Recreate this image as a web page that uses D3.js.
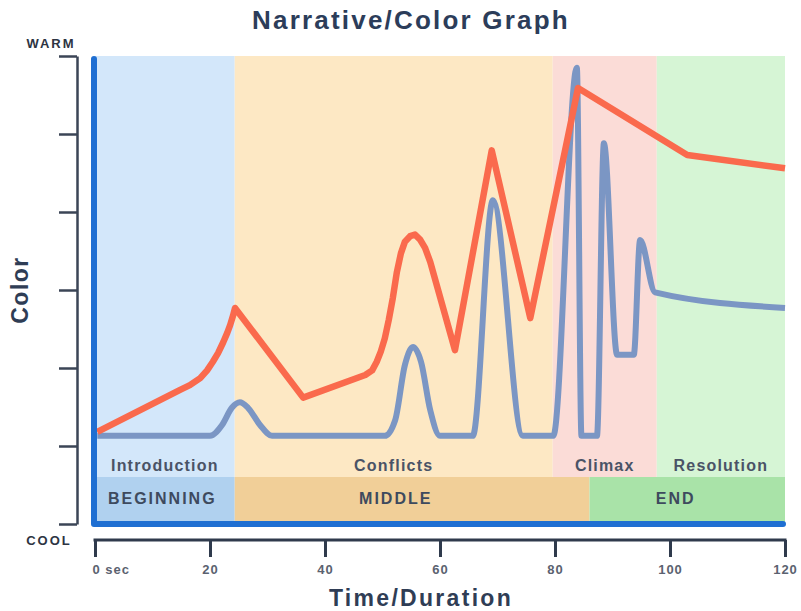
<!DOCTYPE html>
<html lang="en">
<head>
<meta charset="utf-8">
<title>Narrative/Color Graph</title>
<script src="https://cdnjs.cloudflare.com/ajax/libs/d3/7.8.5/d3.min.js"></script>
<style>
  body { margin: 0; background: #fff; }
  svg { display: block; font-family: "Liberation Sans", Arial, sans-serif; }
  .band-label { font-size: 16px; font-weight: bold; fill: #4a5366; letter-spacing: 1.2px; }
  .act-label { font-size: 16px; font-weight: bold; fill: #3e4a5e; letter-spacing: 2px; }
  .x-axis text { font-size: 13px; font-weight: bold; fill: #5b6270; letter-spacing: 1px; }
</style>
</head>
<body>
<div id="chart"></div>
<script>
// sections (seconds)
var sectionNames = ["Introduction", "Conflicts", "Climax", "Resolution"];
var sectionStart = [0, 24.3, 79.6, 97.7];
var sectionEnd = [24.3, 79.6, 97.7, 120];
var sectionColors = ["#d3e7fa", "#fde8c4", "#fbdcd7", "#d6f5d5"];

var actNames = ["BEGINNING", "MIDDLE", "END"];
var actStart = [0, 24.3, 86];
var actEnd = [24.3, 86, 120];
var actLabelAt = [11.7, 52.3, 101];
var actColors = ["#b0d1ef", "#f1cf98", "#a9e3a8"];

var xTicks = [0, 20, 40, 60, 80, 100, 120];
var yTicks = [0, 1, 2, 3, 4, 5, 6];

// [seconds, colour value]
var warmLine = [
  [0.4, 1.18], [14.8, 1.72], [16.5, 1.78], [18.3, 1.87], [19.5, 1.97], [20.5, 2.08],
  [21.4, 2.19], [22.3, 2.33], [23.0, 2.45], [23.5, 2.55], [24.0, 2.67], [24.35, 2.77],
  [36.2, 1.62], [47.0, 1.91], [48.2, 1.97], [49.0, 2.08], [49.7, 2.21], [50.4, 2.38],
  [51.1, 2.62], [51.8, 2.90], [52.5, 3.23], [53.2, 3.47], [53.9, 3.62], [54.8, 3.69],
  [55.65, 3.71], [56.5, 3.65], [57.4, 3.54], [58.3, 3.36], [62.6, 2.23], [69.0, 4.79],
  [75.7, 2.64], [84.0, 5.59], [103.0, 4.73], [120, 4.56]
];
var coolLine = [
  [0.4, 1.13], [20.0, 1.13], [22.1, 1.27], [23.8, 1.49], [25.2, 1.56], [26.6, 1.49],
  [28.7, 1.27], [30.8, 1.13], [50.4, 1.13], [52.2, 1.33], [53.9, 2.04], [55.3, 2.27],
  [56.7, 2.08], [58.3, 1.46], [60.0, 1.13], [65.7, 1.13], [69.2, 4.15], [74.4, 1.13],
  [79.7, 1.13], [83.8, 5.85], [84.6, 1.13], [87.3, 1.13], [88.5, 4.88], [90.8, 2.17],
  [93.7, 2.17], [94.8, 3.64], [97.4, 2.97], [120, 2.77]
];

var W = 801, H = 611;
var plotL = 95, plotR = 785, plotT = 56, plotB = 524;
var rowTop = 477;

var svg = d3.select("#chart").append("svg")
  .attr("width", W)
  .attr("height", H);

var x = d3.scaleLinear().domain([0, 120]).range([plotL, plotR]);
var y = d3.scaleLinear().domain([0, 6]).range([plotB, plotT]);

// light section bands
svg.append("g").selectAll("rect")
  .data(sectionNames)
  .join("rect")
  .attr("x", function (d, i) { return x(sectionStart[i]); })
  .attr("width", function (d, i) { return x(sectionEnd[i]) - x(sectionStart[i]); })
  .attr("y", plotT)
  .attr("height", rowTop - plotT)
  .attr("fill", function (d, i) { return sectionColors[i]; });

svg.append("g").selectAll("text")
  .data(sectionNames)
  .join("text")
  .attr("class", "band-label")
  .attr("x", function (d, i) { return (x(sectionStart[i]) + x(sectionEnd[i])) / 2; })
  .attr("y", 471)
  .attr("text-anchor", "middle")
  .text(function (d) { return d; });

// act row
svg.append("g").selectAll("rect")
  .data(actNames)
  .join("rect")
  .attr("x", function (d, i) { return x(actStart[i]); })
  .attr("width", function (d, i) { return x(actEnd[i]) - x(actStart[i]); })
  .attr("y", rowTop)
  .attr("height", plotB - rowTop)
  .attr("fill", function (d, i) { return actColors[i]; });

svg.append("g").selectAll("text")
  .data(actNames)
  .join("text")
  .attr("class", "act-label")
  .attr("x", function (d, i) { return x(actLabelAt[i]); })
  .attr("y", 504)
  .attr("text-anchor", "middle")
  .text(function (d) { return d; });

// lines
var coolPath = d3.line()
  .curve(d3.curveMonotoneX)
  .x(function (d) { return x(d[0]); })
  .y(function (d) { return y(d[1]); });

var warmPath = d3.line()
  .x(function (d) { return x(d[0]); })
  .y(function (d) { return y(d[1]); });

svg.append("path")
  .datum(coolLine)
  .attr("d", coolPath)
  .attr("fill", "none")
  .attr("stroke", "#7b96c4")
  .attr("stroke-width", 6)
  .attr("stroke-linejoin", "round");

svg.append("path")
  .datum(warmLine)
  .attr("d", warmPath)
  .attr("fill", "none")
  .attr("stroke", "#fa6a4d")
  .attr("stroke-width", 6.5)
  .attr("stroke-linejoin", "round");

// blue frame
svg.append("path")
  .attr("d", "M" + (plotL - 1) + "," + (plotT + 3) + "V" + plotB + "H" + (plotR - 2))
  .attr("fill", "none")
  .attr("stroke", "#1f6fd2")
  .attr("stroke-width", 6)
  .attr("stroke-linecap", "round")
  .attr("stroke-linejoin", "round");

// y bracket
var yAxis = svg.append("g")
  .attr("transform", "translate(77,0)")
  .call(d3.axisLeft(y).tickValues(yTicks).tickSize(18).tickSizeOuter(0).tickFormat(""));
yAxis.selectAll("path, line").attr("stroke", "#3b4556").attr("stroke-width", 2.5);

// x axis
var xAxis = svg.append("g")
  .attr("class", "x-axis")
  .attr("transform", "translate(0,540)")
  .call(d3.axisBottom(x).tickValues(xTicks).tickSize(17).tickSizeOuter(0).tickPadding(8)
    .tickFormat(function (d) { return d === 0 ? "0 sec" : d; }));
xAxis.selectAll("path, line").attr("stroke", "#2f3a4c").attr("stroke-width", 3);
xAxis.select(".domain").attr("d", "M" + (plotL - 1.5) + ",0H" + (plotR + 1.5));
xAxis.selectAll(".tick text")
  .attr("text-anchor", function (d) { return d === 0 ? "start" : "middle"; })
  .attr("dx", function (d) { return d === 0 ? -3 : 0; });

// titles
svg.append("text")
  .attr("x", 411).attr("y", 29)
  .attr("text-anchor", "middle")
  .style("font-size", "26px").style("font-weight", "bold")
  .style("letter-spacing", "2.2px")
  .attr("fill", "#2c3d5a")
  .text("Narrative/Color Graph");

svg.append("text")
  .attr("x", 421).attr("y", 606)
  .attr("text-anchor", "middle")
  .style("font-size", "23px").style("font-weight", "bold")
  .style("letter-spacing", "2.3px")
  .attr("fill", "#2f3d55")
  .text("Time/Duration");

svg.append("text")
  .attr("transform", "translate(28,290) rotate(-90)")
  .attr("text-anchor", "middle")
  .style("font-size", "23px").style("font-weight", "bold")
  .style("letter-spacing", "1.5px")
  .attr("fill", "#2f3d55")
  .text("Color");

svg.append("text")
  .attr("x", 51).attr("y", 48)
  .attr("text-anchor", "middle")
  .style("font-size", "13px").style("font-weight", "bold")
  .style("letter-spacing", "2px")
  .attr("fill", "#2d3442")
  .text("WARM");

svg.append("text")
  .attr("x", 49).attr("y", 545)
  .attr("text-anchor", "middle")
  .style("font-size", "13px").style("font-weight", "bold")
  .style("letter-spacing", "2px")
  .attr("fill", "#2d3442")
  .text("COOL");
</script>
</body>
</html>
